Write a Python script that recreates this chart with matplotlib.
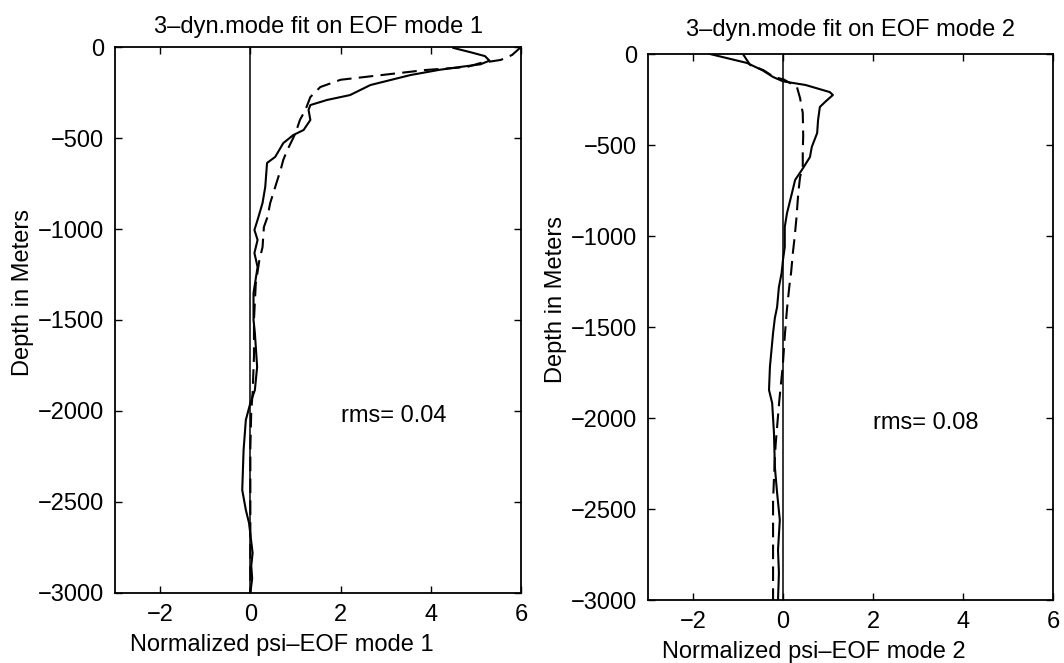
import matplotlib

matplotlib.use("Agg")

import matplotlib.pyplot as plt  # noqa: E402

plt.rcParams["font.family"] = ["Liberation Sans", "DejaVu Sans"]
plt.rcParams["font.size"] = 17

# Mode 1: observed EOF profile (solid) and 3-mode fit (dashed), depth in metres.
eof1_depth = [-5, -30, -50, -75, -95, -108, -125, -154, -209, -264, -291,
              -319, -346, -401, -456, -484, -528, -604, -637, -769, -857, -950,
              -1005, -1060, -1132, -1209, -1352, -1500, -1571, -1758, -1885,
              -1956, -2049, -2214, -2434, -2544, -2615, -2780, -2850, -2920, -3000]
eof1_value = [4.5, 4.9, 5.2, 5.3, 5.1, 4.7, 4.2, 3.55, 2.66, 2.21, 1.7,
              1.33, 1.29, 1.33, 1.18, 0.95, 0.73, 0.55, 0.37, 0.33, 0.27, 0.16,
              0.09, 0.16, 0.09, 0.16, 0.07, 0.07, 0.10, 0.15, 0.10,
              0.0, -0.10, -0.15, -0.18, -0.10, -0.03, 0.05, 0.02, 0.04, 0.0]
fit1_depth = [0, -44, -71, -88, -110, -126, -143, -180, -220, -275, -346, -400,
              -473, -510, -566, -620, -676, -730, -802, -857, -934, -989, -1100,
              -1170, -1300, -1500, -1700, -1900, -2000, -2200, -2500, -3000]
fit1_value = [6.0, 5.8, 5.55, 5.1, 4.8, 3.9, 3.3, 2.0, 1.55, 1.33, 1.22, 1.1,
              1.0, 0.93, 0.82, 0.73, 0.67, 0.6, 0.51, 0.44, 0.38, 0.3, 0.27,
              0.2, 0.12, 0.08, 0.08, 0.05, 0.02, 0.0, 0.0, 0.0]

# Mode 2.
eof2_depth = [0, -49, -90, -126, -150, -170, -209, -225, -260, -291, -363, -434,
              -511, -566, -637, -692, -764, -874, -950, -1060, -1132, -1203,
              -1280, -1390, -1450, -1533, -1720, -1846, -1918, -2082, -2269,
              -2412, -2560, -2725, -2852, -3000]
eof2_value = [-1.62, -0.8, -0.45, -0.22, 0.0, 0.5, 1.04, 1.11, 0.95, 0.82, 0.78,
              0.76, 0.64, 0.6, 0.42, 0.27, 0.2, 0.09, 0.04, 0.04, 0.0, -0.03,
              -0.09, -0.13, -0.18, -0.22, -0.29, -0.31, -0.24, -0.2, -0.18,
              -0.13, -0.07, -0.11, -0.09, -0.11]
fit2_depth = [0, -60, -88, -126, -140, -181, -242, -324, -450, -527, -620, -676,
              -764, -900, -1005, -1093, -1203, -1280, -1400, -1550, -1700, -1753,
              -1900, -2137, -2214, -2395, -2450, -2630, -2800, -3000]
fit2_value = [-0.89, -0.73, -0.44, -0.2, 0.02, 0.31, 0.38, 0.44, 0.45, 0.44,
              0.44, 0.38, 0.34, 0.3, 0.26, 0.22, 0.18, 0.14, 0.09, 0.04, 0.0,
              -0.02, -0.08, -0.16, -0.18, -0.21, -0.22, -0.22, -0.22, -0.22]

titles = ["3–dyn.mode fit on EOF mode 1", "3–dyn.mode fit on EOF mode 2"]
xlabels = ["Normalized psi–EOF mode 1", "Normalized psi–EOF mode 2"]
rms_labels = ["rms= 0.04", "rms= 0.08"]
x_ticks = [-2, 0, 2, 4, 6]
y_ticks = [0, -500, -1000, -1500, -2000, -2500, -3000]

fig = plt.figure(figsize=(10.64, 6.63), dpi=100)
positions = [[0.1081, 0.1056, 0.3816, 0.8235], [0.6090, 0.0950, 0.3806, 0.8235]]
title_pads = [10, 13]
panels = [
    (eof1_value, eof1_depth, fit1_value, fit1_depth),
    (eof2_value, eof2_depth, fit2_value, fit2_depth),
]

for i, (obs_x, obs_d, fit_x, fit_d) in enumerate(panels):
    ax = fig.add_axes(positions[i])
    ax.axvline(0, color="black", linewidth=1.1)
    ax.plot(obs_x, obs_d, color="black", linewidth=1.5)
    ax.plot(fit_x, fit_d, color="black", linewidth=1.5, linestyle=(0, (7, 3.5)))
    ax.set_xlim(-3, 6)
    ax.set_ylim(-3000, 0)
    ax.set_xticks(x_ticks)
    ax.set_yticks(y_ticks)
    ax.tick_params(direction="in", top=True, right=True, length=5, width=1, pad=8)
    for spine in ax.spines.values():
        spine.set_linewidth(1.3)
    ax.set_title(titles[i], pad=title_pads[i], fontsize=17)
    ax.set_xlabel(xlabels[i], fontsize=17)
    ax.xaxis.set_label_coords(0.41, -0.075)
    ax.set_ylabel("Depth in Meters", fontsize=17)
    ax.yaxis.set_label_coords(-0.2, 0.55)
    ax.text(2.0, -2030, rms_labels[i], fontsize=17, va="center", ha="left")

fig.savefig("out.png", dpi=100, facecolor="white")
